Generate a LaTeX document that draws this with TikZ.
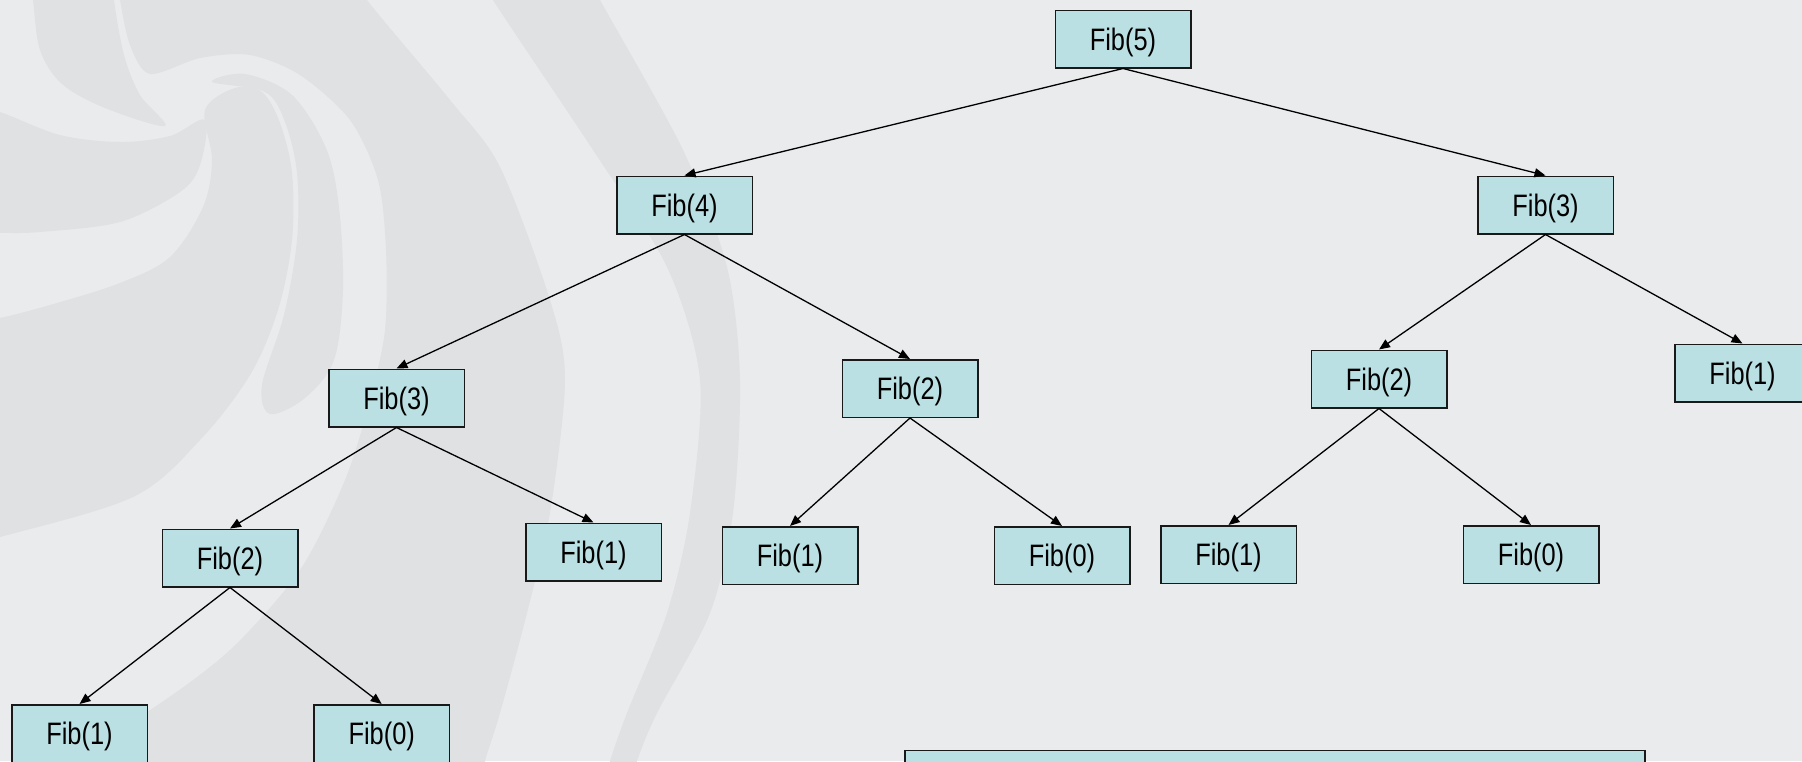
\documentclass[tikz,border=0pt]{standalone}
\usepackage{fontspec}
\newfontfamily\fibfont[FakeStretch=0.82]{Liberation Sans}
\usetikzlibrary{arrows.meta}
\definecolor{bgc}{RGB}{234,235,237}
\definecolor{swc}{RGB}{224,225,227}
\definecolor{boxc}{RGB}{186,224,227}
\begin{document}
\begin{tikzpicture}[x=1pt,y=-1pt,
  fib/.style={draw=black!90, line width=1.5pt, fill=boxc, minimum width=135.5pt,
    minimum height=57.5pt, inner sep=0pt, font=\fibfont\fontsize{31}{36}\selectfont,
    text height=22pt, text depth=0pt},
  link/.style={line width=1.3pt, -{Triangle[length=11pt,width=9pt]}},
  swirl/.style={fill=swc}]
\useasboundingbox (0,0) rectangle (1802,761);
\clip (0,0) rectangle (1802,761);
\fill[bgc] (0,0) rectangle (1802,761);
% background swirl
\fill[swirl] plot[smooth cycle, tension=0.55] coordinates {(30,-20) (33,0) (40,50) (62,84) (105,108) (165,126) (140,95) (124,55) (114,0) (114,-20)};
\fill[swirl] plot[smooth cycle, tension=0.55] coordinates {(-20,110) (0,112) (60,135) (120,142) (170,136) (205,120) (200,165) (180,192) (120,222) (40,232) (0,233) (-20,234)};
\fill[swirl] plot[smooth cycle, tension=0.55] coordinates {(205,110) (235,88) (262,92) (280,123) (292,173) (292,240) (278,310) (250,375) (200,440) (133,497) (0,537) (-20,540) (-20,320) (0,318) (50,305) (120,283) (170,257) (203,207) (212,160)};
\fill[swirl] plot[smooth cycle, tension=0.55] coordinates {(212,82) (245,74) (292,95) (326,148) (339,207) (343,290) (334,360) (305,398) (270,414) (262,385) (284,315) (297,240) (297,173) (285,122) (265,92)};
\fill[swirl] plot[smooth cycle, tension=0.5] coordinates {(118,-20) (120,0) (130,45) (150,74) (200,58) (250,55) (300,75) (350,120) (378,180) (386,250) (385,330) (370,400) (345,480) (300,570) (230,650) (150,710) (60,761) (40,790) (480,790) (485,761) (500,713) (527,613) (550,513) (565,380) (550,300) (500,167) (450,100) (367,0) (360,-20)};
\fill[swirl] plot[smooth cycle, tension=0.5] coordinates {(486,-20) (493,0) (593,150) (667,267) (700,380) (690,513) (667,613) (627,713) (610,761) (603,790) (630,790) (637,761) (657,713) (710,613) (733,513) (740,380) (727,267) (683,150) (600,0) (590,-20)};
% nodes
\node[fib] (f5) at (1123,39) {Fib(5)};
\node[fib] (f4) at (684.5,205) {Fib(4)};
\node[fib] (f3r) at (1545.5,205) {Fib(3)};
\node[fib] (f3l) at (396.5,398) {Fib(3)};
\node[fib] (f2m) at (910,388.5) {Fib(2)};
\node[fib] (f2r) at (1379,379) {Fib(2)};
\node[fib] (f1rr) at (1742.5,373) {Fib(1)};
\node[fib] (f2l) at (230,558) {Fib(2)};
\node[fib] (f1a) at (593.5,552) {Fib(1)};
\node[fib] (f1b) at (790,555.5) {Fib(1)};
\node[fib] (f0b) at (1062,555.5) {Fib(0)};
\node[fib] (f1c) at (1228.5,554.5) {Fib(1)};
\node[fib] (f0c) at (1531,554.5) {Fib(0)};
\node[fib] (f1d) at (79.5,733.5) {Fib(1)};
\node[fib] (f0d) at (381.7,733.5) {Fib(0)};
\node[fib, minimum width=740pt, anchor=north west] (note) at (904.25,749.75) {};
% connectors
\draw[link] (f5.south) -- (f4.north);
\draw[link] (f5.south) -- (f3r.north);
\draw[link] (f4.south) -- (f3l.north);
\draw[link] (f4.south) -- (f2m.north);
\draw[link] (f3r.south) -- (f2r.north);
\draw[link] (f3r.south) -- (f1rr.north);
\draw[link] (f3l.south) -- (f2l.north);
\draw[link] (f3l.south) -- (f1a.north);
\draw[link] (f2m.south) -- (f1b.north);
\draw[link] (f2m.south) -- (f0b.north);
\draw[link] (f2r.south) -- (f1c.north);
\draw[link] (f2r.south) -- (f0c.north);
\draw[link] (f2l.south) -- (f1d.north);
\draw[link] (f2l.south) -- (f0d.north);
\end{tikzpicture}
\end{document}
